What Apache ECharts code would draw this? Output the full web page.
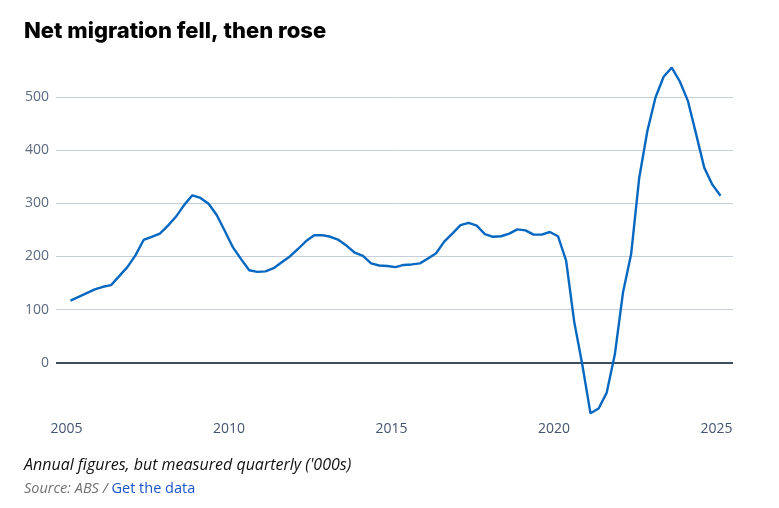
<!DOCTYPE html>
<html>
<head>
<meta charset="utf-8">
<script src="https://cdn.jsdelivr.net/npm/echarts@6/dist/echarts.min.js"></script>
<style>
  html, body { margin: 0; padding: 0; background: #fff; }
  #chart { width: 779px; height: 508px; }
</style>
</head>
<body>
<div id="chart"></div>
<script>
// net overseas migration, annual total measured each quarter ('000s), from Q1 2005
const startYear = 2005
const migration = [
  117, 124, 131, 138, 143, 146, 163, 180, 202, 231,
  237, 243, 258, 275, 297, 315, 310, 299, 278, 248,
  217, 195, 174, 171, 172, 178, 189, 200, 214, 229,
  240, 240, 237, 231, 220, 207, 201, 187, 183, 182,
  180, 184, 185, 187, 196, 206, 228, 243, 259, 263,
  258, 242, 237, 238, 243, 251, 249, 241, 241, 246,
  238, 192, 77, -4, -95, -86, -56, 16, 132, 204,
  348, 436, 499, 538, 555, 529, 492, 430, 367, 335,
  314
]
const yearTicks = [2005, 2010, 2015, 2020, 2025]
const valueTicks = [0, 100, 200, 300, 400, 500]

// each quarter sits in the middle of its three months
const points = migration.map((v, i) => [startYear + (i + 0.5) / 4, v])

const font = '"Open Sans", "DejaVu Sans", sans-serif'

let myEcharts = echarts.init(document.getElementById('chart'))
let option = {
  animation: false,
  grid: { left: 56, right: 46, top: 65, bottom: 92 },
  graphic: [
    {
      type: 'text', left: 24, top: 20,
      style: { text: 'Net migration fell, then rose', fontFamily: 'Inter, "Open Sans", sans-serif', fontWeight: 800, fontSize: 22, fill: '#000' }
    },
    {
      type: 'text', left: 24, top: 457,
      style: { text: "Annual figures, but measured quarterly ('000s)", fontFamily: font, fontStyle: 'italic', fontSize: 16, fill: '#111' }
    },
    {
      type: 'text', left: 24, top: 481,
      style: {
        text: '{s|Source: ABS / }{l|Get the data}',
        rich: {
          s: { fontFamily: font, fontStyle: 'italic', fontSize: 14.5, fill: '#707070', color: '#707070' },
          l: { fontFamily: font, fontSize: 14.5, fill: '#1a55c9', color: '#1a55c9' }
        }
      }
    }
  ],
  xAxis: {
    type: 'value',
    min: 2004.68,
    max: 2025.51,
    axisLine: { show: false },
    axisTick: { show: false },
    splitLine: { show: false },
    axisLabel: {
      customValues: yearTicks,
      formatter: v => String(v),
      color: '#44546e',
      fontFamily: font,
      fontSize: 14,
      margin: 6
    }
  },
  yAxis: {
    type: 'value',
    min: -100,
    max: 560,
    interval: 100,
    axisLine: { show: false },
    axisTick: { show: false },
    axisLabel: {
      customValues: valueTicks,
      color: '#5b6a80',
      fontFamily: font,
      fontSize: 14,
      margin: 7
    },
    splitLine: {
      show: true,
      showMinLine: false,
      showMaxLine: false,
      lineStyle: { color: '#c6ced9', width: 1 }
    }
  },
  series: [
    {
      type: 'line',
      data: points,
      showSymbol: false,
      symbol: 'none',
      lineStyle: { color: '#0668c0', width: 2.4 },
      z: 3,
      markLine: {
        silent: true,
        symbol: 'none',
        label: { show: false },
        lineStyle: { color: '#3f4d61', width: 2, type: 'solid' },
        data: [{ yAxis: 0 }],
        z: 2
      }
    }
  ]
}
option && myEcharts.setOption(option)
</script>
</body>
</html>
